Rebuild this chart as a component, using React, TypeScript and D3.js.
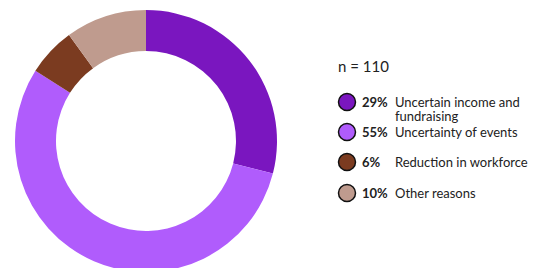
import React from 'react';
import * as d3 from 'd3';

const categories = ['Uncertain income and fundraising', 'Uncertainty of events', 'Reduction in workforce', 'Other reasons'];
const shares = [29, 55, 6, 10];
const colors = ['#7a16bf', '#b05cfc', '#7b3b20', '#bf9b8e'];
const sampleLabel = 'n = 110';

// legend label lines (first one wraps)
const labelLines = [['Uncertain income and', 'fundraising'], ['Uncertainty of events'], ['Reduction in workforce'], ['Other reasons']];
const legendRows = [102, 132, 162, 193];

export default function App() {
  const width = 542;
  const height = 268;
  const cx = 146;
  const cy = 141;
  const outerR = 131;
  const innerR = 90;

  const pie = d3.pie<number>().sort(null).value(d => d);
  const arcs = pie(shares);
  const arc = d3.arc<d3.PieArcDatum<number>>().innerRadius(innerR).outerRadius(outerR);

  const font = "Lato, 'Open Sans', sans-serif";

  return (
    <svg width={width} height={height} style={{ position: 'absolute', left: 0, top: 0 }} fontFamily={font}>
      <rect width={width} height={height} fill="#fff" />
      <g transform={`translate(${cx},${cy})`}>
        {arcs.map((a, i) => (
          <path key={categories[i]} d={arc(a) || ''} fill={colors[i]} />
        ))}
      </g>
      <text x={338} y={72} fontSize={15} fill="#222">{sampleLabel}</text>
      {categories.map((c, i) => (
        <g key={c} transform={`translate(0, ${legendRows[i]})`}>
          <circle cx={347} cy={0} r={8.5} fill={colors[i]} stroke="#111" strokeWidth={1.5} />
          <text x={362} y={4.5} fontSize={13} fontWeight="bold" fill="#222">{shares[i]}%</text>
          {labelLines[i].map((line, j) => (
            <text key={line} x={395} y={4.5 + j * 14.5} fontSize={13} fill="#222">{line}</text>
          ))}
        </g>
      ))}
    </svg>
  );
}
